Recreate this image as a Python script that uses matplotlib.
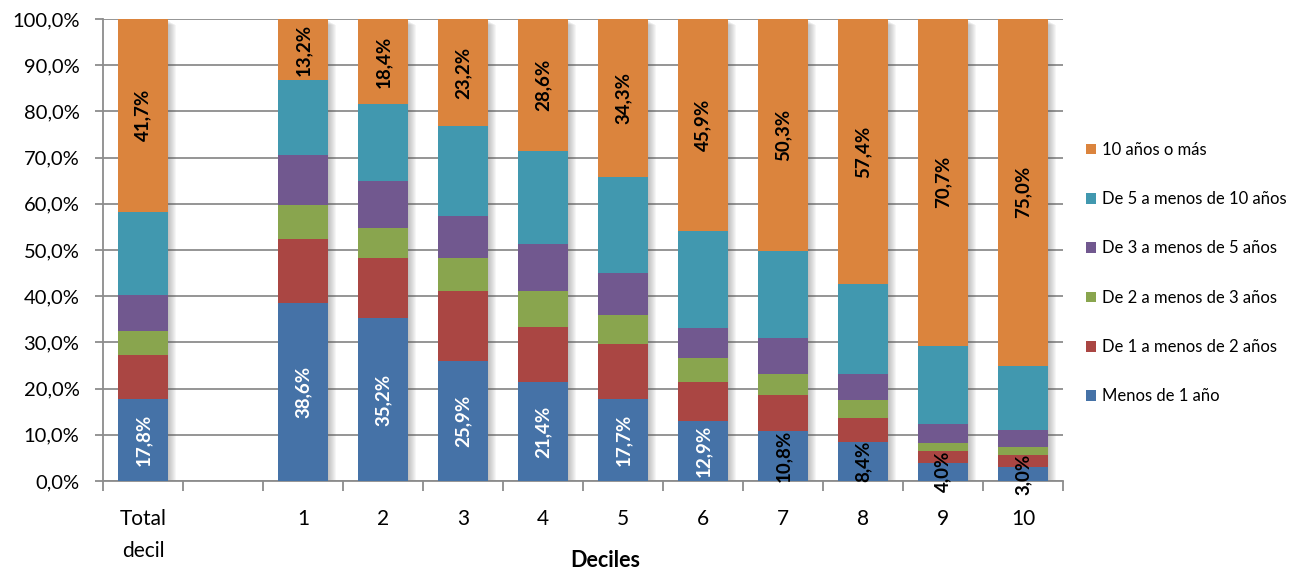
import matplotlib
matplotlib.use("Agg")
import matplotlib.pyplot as plt
import numpy as np
from matplotlib.ticker import FixedLocator, FuncFormatter

plt.rcParams['font.family'] = ['Lato', 'DejaVu Sans']

categories = ["Total\ndecil", "", "1", "2", "3", "4", "5", "6", "7", "8", "9", "10"]
bar_categories = ["Total\ndecil", "1", "2", "3", "4", "5", "6", "7", "8", "9", "10"]

series_names = [
    "Menos de 1 año",
    "De 1 a menos de 2 años",
    "De 2 a menos de 3 años",
    "De 3 a menos de 5 años",
    "De 5 a menos de 10 años",
    "10 años o más",
]

menos_1 = [17.8, 38.6, 35.2, 25.9, 21.4, 17.7, 12.9, 10.8, 8.4, 4.0, 3.0]
de_1_a_2 = [9.4, 13.8, 13.1, 15.2, 11.9, 12.0, 8.6, 7.8, 5.3, 2.5, 2.6]
de_2_a_3 = [5.2, 7.3, 6.5, 7.2, 7.8, 6.3, 5.1, 4.6, 3.9, 1.7, 1.8]
de_3_a_5 = [7.8, 10.9, 10.1, 9.1, 10.1, 9.1, 6.6, 7.8, 5.6, 4.1, 3.6]
de_5_a_10 = [18.1, 16.2, 16.7, 19.4, 20.2, 20.6, 20.9, 18.7, 19.4, 17.0, 14.0]
diez_o_mas = [41.7, 13.2, 18.4, 23.2, 28.6, 34.3, 45.9, 50.3, 57.4, 70.7, 75.0]

colors = ["#4572A7", "#AA4643", "#89A54E", "#71588F", "#4198AF", "#DB843D"]

series = [menos_1, de_1_a_2, de_2_a_3, de_3_a_5, de_5_a_10, diez_o_mas]

fig = plt.figure(figsize=(13.07, 5.70), dpi=100)
ax = fig.add_axes([0.0788, 0.1561, 0.7345, 0.8106])

x = np.array([categories.index(c) for c in bar_categories], dtype=float)
width = 0.625
grid_color = "#8C8C8C"

# soft drop shadow behind each stacked column
totals = np.sum(np.array(series), axis=0)
px = 1.0 / 80.0
for k in range(1, 9):
    ax.bar(x + k * px, totals - 0.12 * k - 0.3, width, bottom=0,
           color="#555555", alpha=0.05, linewidth=0, zorder=2)

bottom = np.zeros(len(x))
containers = []
for vals, col, name in zip(series, colors, series_names):
    vals = np.array(vals)
    bc = ax.bar(x, vals, width, bottom=bottom, color=col, label=name,
                linewidth=0, zorder=3)
    containers.append((bc, vals, bottom.copy()))
    bottom = bottom + vals


def fmt(v):
    return f"{v:.1f}".replace(".", ",") + "%"


# value labels on the first and last segments
bc, vals, bots = containers[0]
for xi, v, b in zip(x, vals, bots):
    color = "white" if v > 11 else "black"
    ax.text(xi, b + v / 2, fmt(v), rotation=90, ha="center", va="center",
            fontsize=13.5, fontweight="bold", color=color, zorder=5)
bc, vals, bots = containers[-1]
for xi, v, b in zip(x, vals, bots):
    ax.text(xi, b + v / 2, fmt(v), rotation=90, ha="center", va="center",
            fontsize=13.5, fontweight="bold", color="black", zorder=5)

ax.set_xlim(-0.5, len(categories) - 0.5)
ax.set_ylim(0, 100)

ax.yaxis.set_major_locator(FixedLocator(np.arange(0, 101, 10)))
ax.yaxis.set_major_formatter(FuncFormatter(lambda v, p: f"{v:.1f}".replace(".", ",") + "%"))
ax.grid(axis="y", color=grid_color, linewidth=1.3, zorder=0)
ax.set_axisbelow(True)

ax.set_xticks(np.arange(len(categories)))
ax.set_xticklabels(categories, linespacing=1.7)
ax.set_xticks(np.arange(len(categories) + 1) - 0.5, minor=True)
ax.tick_params(axis="x", which="major", length=0, labelsize=15, pad=20.5)
ax.tick_params(axis="x", which="minor", length=7, width=1.3, color=grid_color)
ax.tick_params(axis="y", length=6, width=1.3, color=grid_color, labelsize=14.5, pad=11)

for s in ["top", "right"]:
    ax.spines[s].set_visible(False)
for s in ["left", "bottom"]:
    ax.spines[s].set_color(grid_color)
    ax.spines[s].set_linewidth(1.3)

ax.set_xlabel("Deciles", fontsize=15.5, fontweight="bold", va="baseline")
ax.xaxis.set_label_coords(0.523, -0.186)

handles, labels = ax.get_legend_handles_labels()
leg = fig.legend(handles[::-1], labels[::-1], loc="upper left",
                 bbox_to_anchor=(0.826, 0.763), frameon=False, fontsize=12,
                 handlelength=0.6, handleheight=0.6, handletextpad=0.35,
                 labelspacing=2.0, borderaxespad=0)

fig.savefig("out.png", dpi=100)
